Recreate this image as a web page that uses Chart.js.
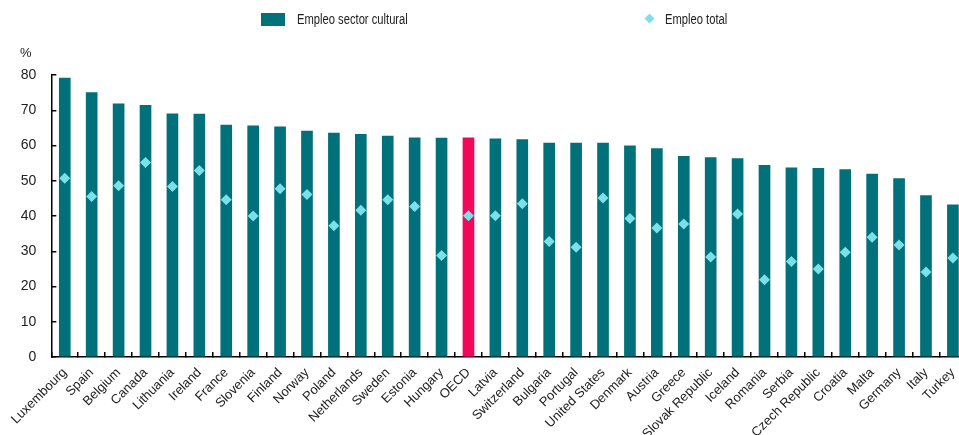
<!DOCTYPE html>
<html>
<head>
<meta charset="utf-8">
<script src="https://cdn.jsdelivr.net/npm/chart.js@4"></script>
<style>
  html, body { margin: 0; padding: 0; background: #fff; overflow: hidden; }
  #wrap { position: relative; width: 977px; height: 435px; }
  .txt { position: absolute; font-family: "Liberation Sans", Arial, sans-serif; color: #222; white-space: nowrap; }
  .leg { font-size: 14px; line-height: 14px; transform-origin: left center; transform: scaleX(0.8); }
</style>
</head>
<body>
<div id="wrap">
  <canvas id="chart" width="977" height="435"></canvas>
  <div style="position:absolute;left:261px;top:13px;width:24px;height:13px;background:#00707A"></div>
  <div class="txt leg" style="left:297px;top:12px">Empleo sector cultural</div>
  <div style="position:absolute;left:646px;top:15px;width:7px;height:7px;background:#7CE0E8;transform:rotate(45deg)"></div>
  <div class="txt leg" style="left:665px;top:12px">Empleo total</div>
  <div class="txt" style="left:20px;top:45px;font-size:13px">%</div>
</div>
<script>
const countries = ['Luxembourg', 'Spain', 'Belgium', 'Canada', 'Lithuania', 'Ireland', 'France', 'Slovenia',
  'Finland', 'Norway', 'Poland', 'Netherlands', 'Sweden', 'Estonia', 'Hungary', 'OECD', 'Latvia',
  'Switzerland', 'Bulgaria', 'Portugal', 'United States', 'Denmark', 'Austria', 'Greece',
  'Slovak Republic', 'Iceland', 'Romania', 'Serbia', 'Czech Republic', 'Croatia', 'Malta',
  'Germany', 'Italy', 'Turkey'];

// % empleo en el sector cultural
const empleoCultural = [79.1, 75.0, 71.8, 71.4, 69.0, 68.9, 65.8, 65.6, 65.3, 64.1, 63.5, 63.2, 62.7,
  62.2, 62.1, 62.2, 61.9, 61.7, 60.7, 60.7, 60.7, 59.9, 59.1, 56.9, 56.6, 56.3, 54.4, 53.7, 53.5,
  53.2, 51.9, 50.6, 45.8, 43.2];

// % empleo total
const empleoTotal = [50.7, 45.5, 48.6, 55.2, 48.4, 52.9, 44.6, 40.0, 47.7, 46.1, 37.2, 41.6, 44.6,
  42.7, 28.8, 40.1, 40.1, 43.5, 32.8, 31.1, 45.1, 39.3, 36.6, 37.7, 28.4, 40.6, 21.9, 27.1, 25.0,
  29.7, 34.0, 31.8, 24.1, 28.1];

const yTicks = [0, 10, 20, 30, 40, 50, 60, 70, 80];

Chart.defaults.font.family = '"Liberation Sans", Arial, sans-serif';

new Chart(document.getElementById('chart'), {
  type: 'bar',
  data: {
    labels: countries,
    datasets: [
      {
        type: 'line',
        label: 'Empleo total',
        data: empleoTotal,
        showLine: false,
        pointStyle: 'rectRot',
        pointRadius: 5.5,
        pointBackgroundColor: '#7CE0E8',
        pointBorderWidth: 0,
        order: 0
      },
      {
        label: 'Empleo sector cultural',
        data: empleoCultural,
        backgroundColor: countries.map(c => c === 'OECD' ? '#F2075A' : '#00707A'),
        barThickness: 11,
        order: 1
      }
    ]
  },
  options: {
    responsive: false,
    animation: false,
    layout: { padding: { top: 75, left: 0, right: 0, bottom: 0 } },
    plugins: {
      legend: { display: false }, // legend is drawn in HTML above
      tooltip: { enabled: false }
    },
    scales: {
      x: {
        afterFit: s => { s.height = 78; },
        border: { color: '#000', width: 1.5 },
        grid: { offset: true, drawOnChartArea: false, drawTicks: true, tickLength: -5, color: '#000', lineWidth: 1.5 },
        ticks: { autoSkip: false, maxRotation: 45, minRotation: 45, padding: 13, color: '#222', font: { size: 13 } }
      },
      y: {
        min: 0,
        max: 80,
        afterFit: s => { s.width = 51; },
        afterBuildTicks: s => { s.ticks = yTicks.map(v => ({ value: v })); },
        border: { color: '#000', width: 1.5 },
        grid: { drawOnChartArea: false, drawTicks: true, tickLength: -5, color: '#000', lineWidth: 1.5 },
        ticks: { padding: 20, color: '#222', font: { size: 14 } }
      }
    }
  }
});
</script>
</body>
</html>
